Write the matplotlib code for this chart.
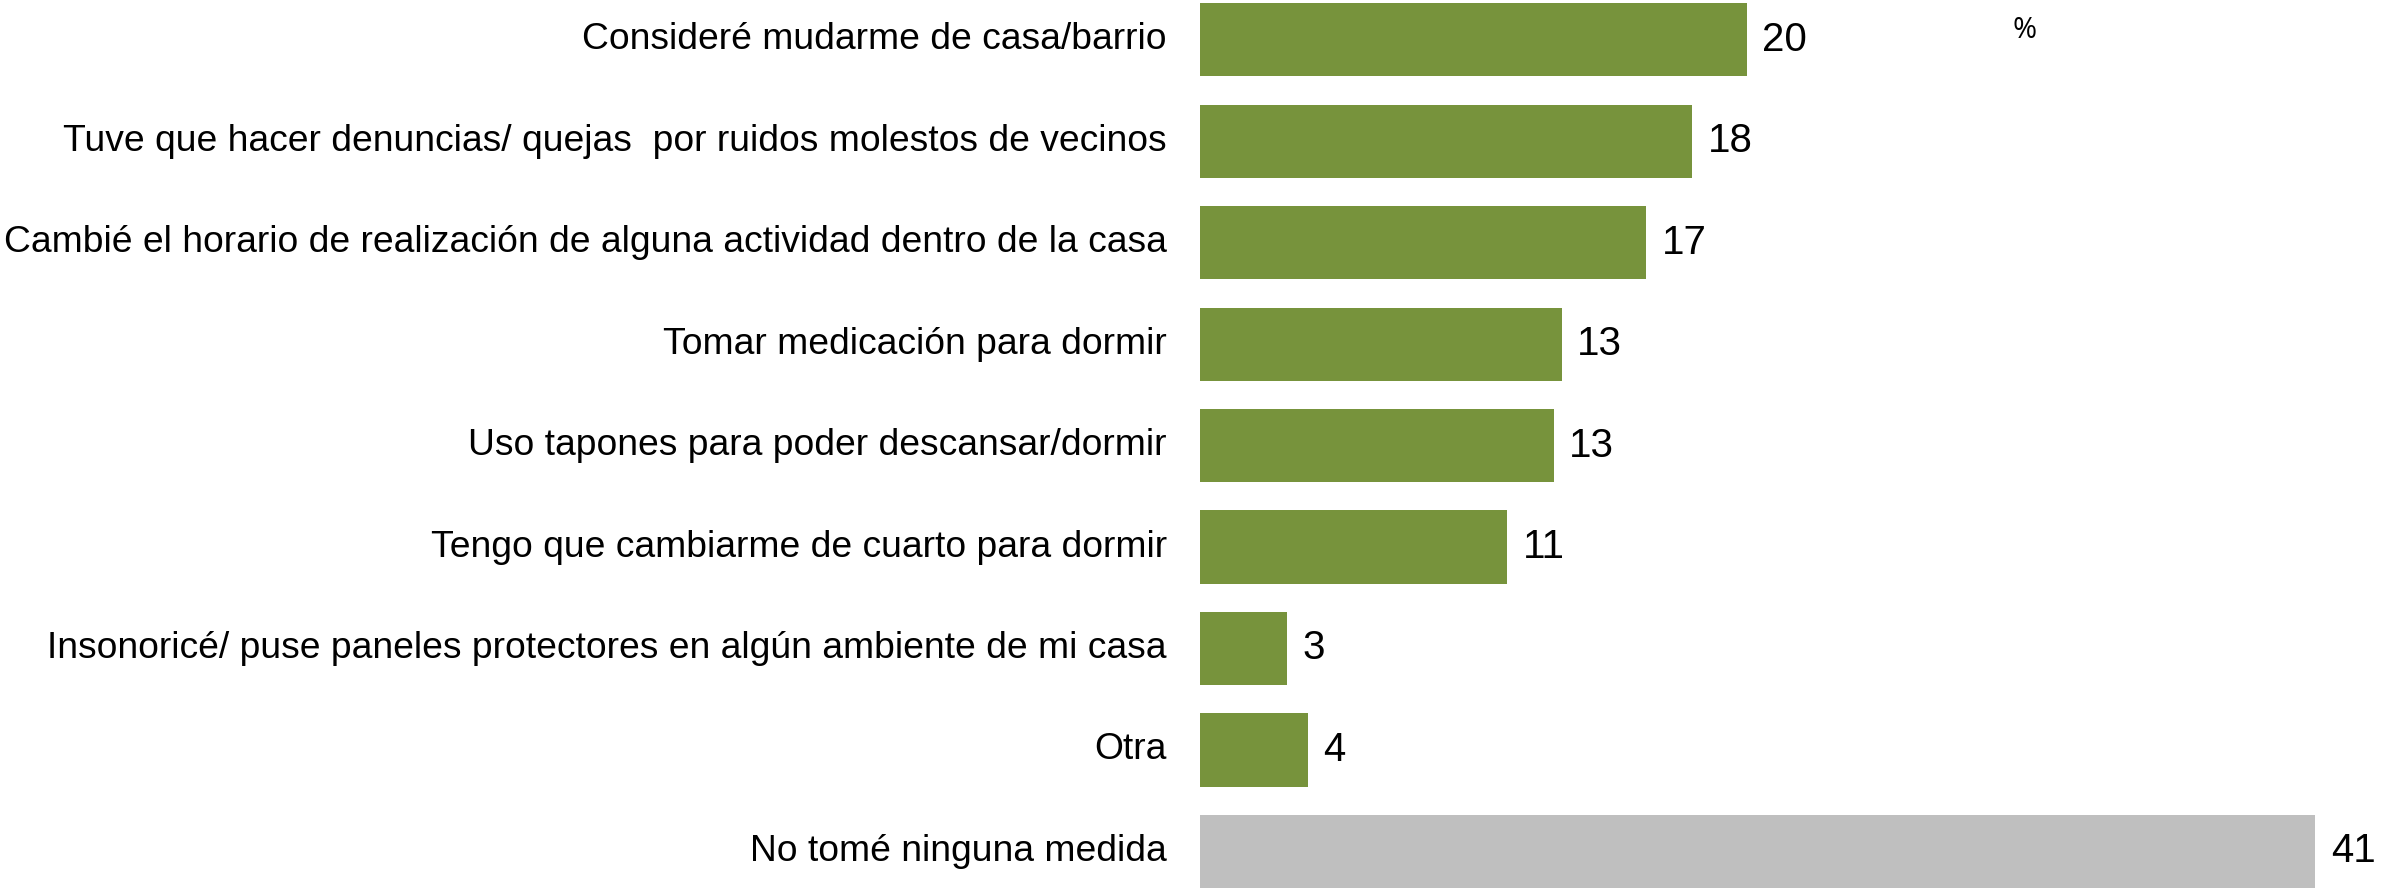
import matplotlib as mpl
mpl.use('Agg')
from matplotlib import pyplot as plt

categories = [
    "Consideré mudarme de casa/barrio",
    "Tuve que hacer denuncias/ quejas  por ruidos molestos de vecinos",
    "Cambié el horario de realización de alguna actividad dentro de la casa",
    "Tomar medicación para dormir",
    "Uso tapones para poder descansar/dormir",
    "Tengo que cambiarme de cuarto para dormir",
    "Insonoricé/ puse paneles protectores en algún ambiente de mi casa",
    "Otra",
    "No tomé ninguna medida",
]
values = [20.1, 18.1, 16.4, 13.3, 13.0, 11.3, 3.2, 3.95, 41.0]
value_labels = ["20", "18", "17", "13", "13", "11", "3", "4", "41"]
colors = ["#77933C"] * 8 + ["#BFBFBF"]

plt.rcParams['font.family'] = ['Liberation Sans', 'DejaVu Sans']

fig = plt.figure(figsize=(23.82, 8.88), dpi=100)
ax = fig.add_axes([0.5038, 0.0, 0.4962, 1.0])

pos = list(range(len(categories)))
ax.barh(pos, values, height=0.72, color=colors, edgecolor='none')

ax.set_xlim(0, 43.45)
ax.set_ylim(8.36, -0.39)
ax.axis('off')

for p, v, lab in zip(pos, values, value_labels):
    ax.annotate(lab, (v, p), xytext=(11, 0), textcoords='offset points',
                va='center', ha='left', fontsize=29, color='black')

for p, c in zip(pos, categories):
    ax.annotate(c, (0, p), xytext=(-24, 0), textcoords='offset points',
                va='center', ha='right', fontsize=26.8, color='black',
                annotation_clip=False)

fig.text(2025 / 2382, 1 - 30 / 888, "%", ha='center', va='center', fontsize=21,
         family=['Open Sans', 'DejaVu Sans'])

plt.savefig("out.png", dpi=100)
plt.close()
